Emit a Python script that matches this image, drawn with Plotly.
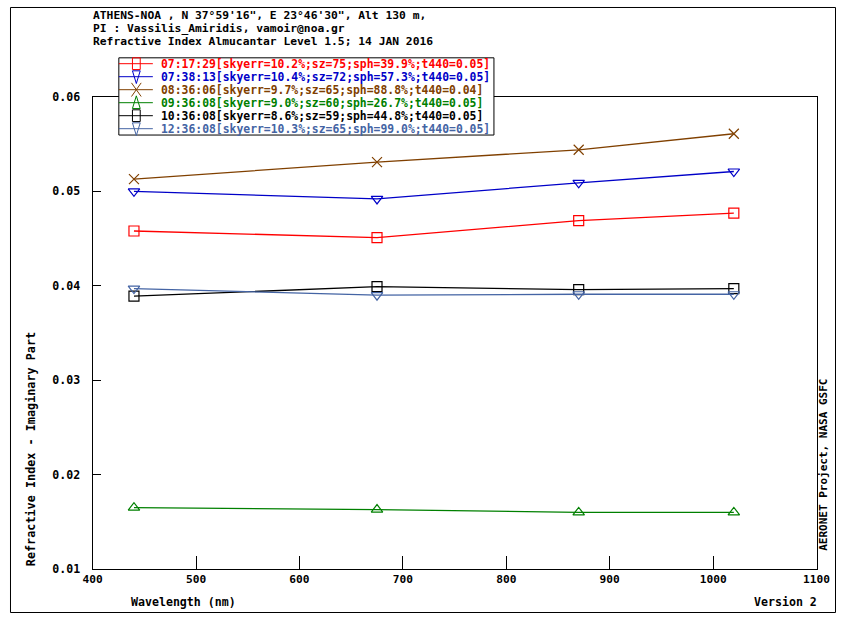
import plotly.graph_objects as go

# wavelengths (nm) and imaginary part of the refractive index per almucantar
wavelengths = [440, 675, 870, 1020]

labels = [
    "07:17:29[skyerr=10.2%;sz=75;sph=39.9%;t440=0.05]",
    "07:38:13[skyerr=10.4%;sz=72;sph=57.3%;t440=0.05]",
    "08:36:06[skyerr=9.7%;sz=65;sph=88.8%;t440=0.04]",
    "09:36:08[skyerr=9.0%;sz=60;sph=26.7%;t440=0.05]",
    "10:36:08[skyerr=8.6%;sz=59;sph=44.8%;t440=0.05]",
    "12:36:08[skyerr=10.3%;sz=65;sph=99.0%;t440=0.05]",
]
k_0717 = [0.0458, 0.0451, 0.0469, 0.0477]
k_0738 = [0.0500, 0.0492, 0.0509, 0.0521]
k_0836 = [0.0513, 0.0531, 0.0544, 0.0561]
k_0936 = [0.0165, 0.0163, 0.0160, 0.0160]
k_1036 = [0.0389, 0.0399, 0.0396, 0.0397]
k_1236 = [0.0397, 0.0390, 0.0391, 0.0391]
series = [k_0717, k_0738, k_0836, k_0936, k_1036, k_1236]

x_ticks = [400, 500, 600, 700, 800, 900, 1000, 1100]
y_ticks = [0.01, 0.02, 0.03, 0.04, 0.05, 0.06]

colors = ["#ff0000", "#0000c8", "#804000", "#008000", "#000000", "#4464a4"]
symbols = ["square-open", "triangle-down-open", "x-thin-open",
           "triangle-up-open", "square-open", "triangle-down-open"]
legend_marks = ["square", "tri_down", "x", "tri_up", "square", "tri_down"]

W, H = 850, 620
MONO = "DejaVu Sans Mono"


def px(x):
    return x / W


def py(y):
    return 1 - y / H


fig = go.Figure()
for vals, name, col, sym in zip(series, labels, colors, symbols):
    fig.add_trace(go.Scatter(
        x=wavelengths, y=vals, name=name, mode="lines+markers",
        line=dict(color=col, width=1.3),
        marker=dict(symbol=sym, size=10, color=col, line=dict(color=col, width=1.2)),
        showlegend=False,
    ))

shapes = []
annotations = []

# outer frame of the picture
shapes.append(dict(type="rect", xref="paper", yref="paper", x0=px(0.5), x1=px(849.5),
                   y0=py(619.5), y1=py(0.5), line=dict(color="black", width=1)))

# hand-made legend box (IDL style, tight rows)
lx0, lx1, ly0, ly1 = 112, 498, 52, 131
shapes.append(dict(type="rect", xref="paper", yref="paper", x0=px(lx0), x1=px(lx1),
                   y0=py(ly1), y1=py(ly0), fillcolor="white",
                   line=dict(color="black", width=1)))
row_h = 13.3
for i, (name, col, mk) in enumerate(zip(labels, colors, legend_marks)):
    ry = 58 + i * row_h
    cx = 130
    shapes.append(dict(type="line", xref="paper", yref="paper", x0=px(lx0), x1=px(147),
                       y0=py(ry), y1=py(ry), line=dict(color=col, width=1)))
    if mk == "square":
        pts = [(cx - 4, ry - 6), (cx + 4, ry - 6), (cx + 4, ry + 6), (cx - 4, ry + 6)]
        path = "M" + " L".join(f"{px(a):.5f},{py(b):.5f}" for a, b in pts) + " Z"
    elif mk == "tri_down":
        pts = [(cx - 4, ry - 6), (cx + 4, ry - 6), (cx, ry + 7)]
        path = "M" + " L".join(f"{px(a):.5f},{py(b):.5f}" for a, b in pts) + " Z"
    elif mk == "tri_up":
        pts = [(cx - 4, ry + 6), (cx + 4, ry + 6), (cx, ry - 7)]
        path = "M" + " L".join(f"{px(a):.5f},{py(b):.5f}" for a, b in pts) + " Z"
    else:
        path = (f"M{px(cx - 5):.5f},{py(ry - 7):.5f} L{px(cx + 5):.5f},{py(ry + 7):.5f} "
                f"M{px(cx - 5):.5f},{py(ry + 7):.5f} L{px(cx + 5):.5f},{py(ry - 7):.5f}")
    shapes.append(dict(type="path", xref="paper", yref="paper", path=path,
                       line=dict(color=col, width=1)))
    annotations.append(dict(x=px(153), y=py(ry), xref="paper", yref="paper",
                            text=name, showarrow=False, xanchor="left", yanchor="middle",
                            font=dict(family=MONO, size=11.4, color=col, weight="bold")))

# header lines
header = [
    "ATHENS-NOA , N 37°59'16\", E 23°46'30\", Alt 130 m,",
    "PI : Vassilis_Amiridis, vamoir@noa.gr",
    "Refractive Index Almucantar Level 1.5; 14 JAN 2016",
]
for i, line in enumerate(header):
    annotations.append(dict(x=px(83), y=py(9 + 13.3 * i), xref="paper", yref="paper",
                            text=line, showarrow=False, xanchor="left", yanchor="middle",
                            font=dict(family=MONO, size=11.3, color="black", weight="bold")))

annotations += [
    dict(x=px(21), y=py(452), xref="paper", yref="paper", textangle=-90,
         text="Refractive Index - Imaginary Part", showarrow=False,
         xanchor="center", yanchor="middle",
         font=dict(family=MONO, size=11.8, color="black", weight="bold")),
    dict(x=px(837), y=py(468), xref="paper", yref="paper", textangle=-90,
         text="AERONET Project, NASA GSFC", showarrow=False,
         xanchor="center", yanchor="middle",
         font=dict(family=MONO, size=11, color="black", weight="bold")),
    dict(x=px(122), y=py(609), xref="paper", yref="paper",
         text="Wavelength (nm)", showarrow=False, xanchor="left", yanchor="middle",
         font=dict(family=MONO, size=11.6, color="black", weight="bold")),
    dict(x=px(832), y=py(609), xref="paper", yref="paper",
         text="Version 2", showarrow=False, xanchor="right", yanchor="middle",
         font=dict(family=MONO, size=11.6, color="black", weight="bold")),
]

fig.update_layout(
    width=W, height=H,
    margin=dict(l=0, r=0, t=0, b=0),
    paper_bgcolor="white", plot_bgcolor="white",
    showlegend=False,
    shapes=shapes, annotations=annotations,
    xaxis=dict(domain=[px(85), px(830)], range=[400, 1100], tickvals=x_ticks,
               ticks="inside", ticklen=13, tickcolor="black", tickwidth=1,
               showline=True, linecolor="black", linewidth=1, mirror=True,
               showgrid=False, zeroline=False,
               tickfont=dict(family=MONO, size=11.2, color="black", weight="bold")),
    yaxis=dict(domain=[1 - 575 / H, 1 - 92 / H], range=[0.01, 0.06], tickvals=y_ticks,
               tickformat=".2f", ticks="inside", ticklen=8, tickcolor="black", tickwidth=1,
               showline=True, linecolor="black", linewidth=1, mirror=True,
               showgrid=False, zeroline=False, ticklabelstandoff=9,
               tickfont=dict(family=MONO, size=11.6, color="black", weight="bold")),
)

fig.write_html("out.html", config={"displayModeBar": False},
               post_script="document.body.style.margin='0';")
